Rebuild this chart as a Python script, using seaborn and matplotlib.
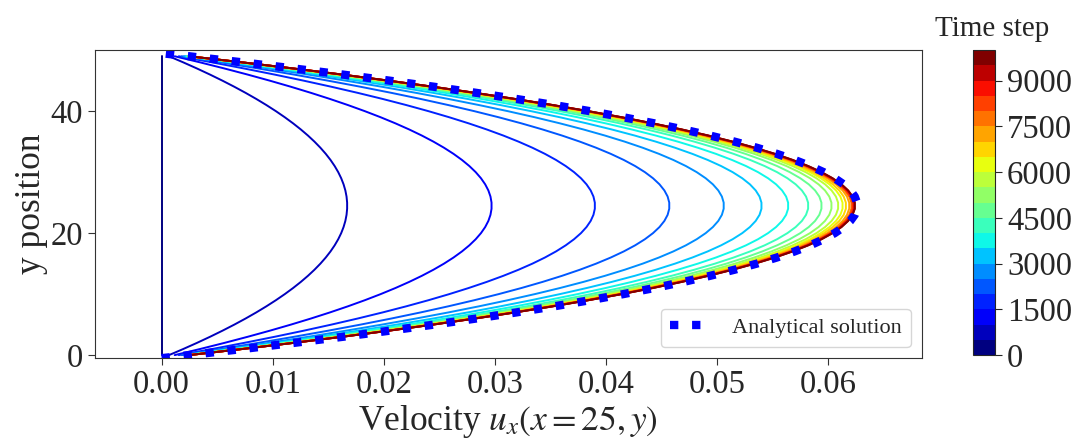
import numpy as np
import pandas as pd
import seaborn as sns
import matplotlib.pyplot as plt
import matplotlib as mpl

# time steps of the plotted profiles
time_steps = [0, 500, 1000, 1500, 2000, 2500, 3000, 3500, 4000, 4500,
              5000, 5500, 6000, 6500, 7000, 7500, 8000, 8500, 9000, 9500]

# centreline velocity
peak_velocity = [0.0, 0.0167, 0.0297, 0.0390, 0.0457, 0.0506, 0.0540, 0.0564,
                 0.0582, 0.0594, 0.0603, 0.0609, 0.0613, 0.0616, 0.0619,
                 0.0621, 0.0622, 0.0623, 0.0624, 0.0624]

# lattice nodes across the channel
y_nodes = list(range(50))

# normalised profile shape (lower half, mirrored for the upper half)
shape_half = [0.0396, 0.1164, 0.1900, 0.2604, 0.3276, 0.3916, 0.4524, 0.5100,
              0.5644, 0.6156, 0.6636, 0.7084, 0.7500, 0.7884, 0.8236, 0.8556,
              0.8844, 0.9100, 0.9324, 0.9516, 0.9676, 0.9804, 0.9900, 0.9964,
              0.9996]

# analytical solution: walls at y = -0.5 and y = 49.5
analytic_peak = 0.0626
analytic_y = [-0.5] + y_nodes + [49.5]

shape = shape_half + shape_half[::-1]

# long table for seaborn
rows = []
for t, p in zip(time_steps, peak_velocity):
    for y, s in zip(y_nodes, shape):
        rows.append({"step": t, "y": y, "u": p * s})
df = pd.DataFrame(rows)

analytic_u = [0.0] + [analytic_peak * s for s in shape] + [0.0]

sns.set_style("ticks")
plt.rcParams["font.family"] = ["Liberation Serif", "DejaVu Serif"]
plt.rcParams["mathtext.fontset"] = "stix"

bounds = np.arange(0, 10001, 500)
cmap = plt.get_cmap("jet", len(bounds) - 1)
norm = mpl.colors.BoundaryNorm(bounds, cmap.N)
palette = {t: cmap(norm(t)) for t in time_steps}

fig = plt.figure(figsize=(10.73, 4.4), dpi=100)
ax = fig.add_axes([0.0885, 0.186, 0.7705, 0.700])
cax = fig.add_axes([0.907, 0.193, 0.0205, 0.693])

sns.lineplot(data=df, x="u", y="y", hue="step", palette=palette,
             estimator=None, sort=False, legend=False, linewidth=1.4, ax=ax)

ax.plot(analytic_u, analytic_y, color="blue", linewidth=6,
        linestyle=":", label="Analytical solution")

ax.set_xlim(-0.006, 0.0684)
ax.set_ylim(-0.5, 50)
ax.set_xticks([0.0, 0.01, 0.02, 0.03, 0.04, 0.05, 0.06])
ax.set_yticks([0, 20, 40])
ax.tick_params(labelsize=23.5, length=5, color="0.2")
for sp in ax.spines.values():
    sp.set_color("0.2")
ax.set_xlabel(r"Velocity $u_x(x=25, y)$", fontsize=25.5, labelpad=2)
ax.set_ylabel("y position", fontsize=25.5, labelpad=2)
ax.legend(loc="lower right", fontsize=16, frameon=True)

sm = mpl.cm.ScalarMappable(norm=norm, cmap=cmap)
cb = fig.colorbar(sm, cax=cax, ticks=[0, 1500, 3000, 4500, 6000, 7500, 9000])
cb.minorticks_off()
cb.ax.tick_params(labelsize=23.5, length=5)
cb.outline.set_linewidth(0.8)
cax.set_title("Time step", fontsize=21, pad=10, x=0.85)

fig.savefig("out.png", dpi=100)
